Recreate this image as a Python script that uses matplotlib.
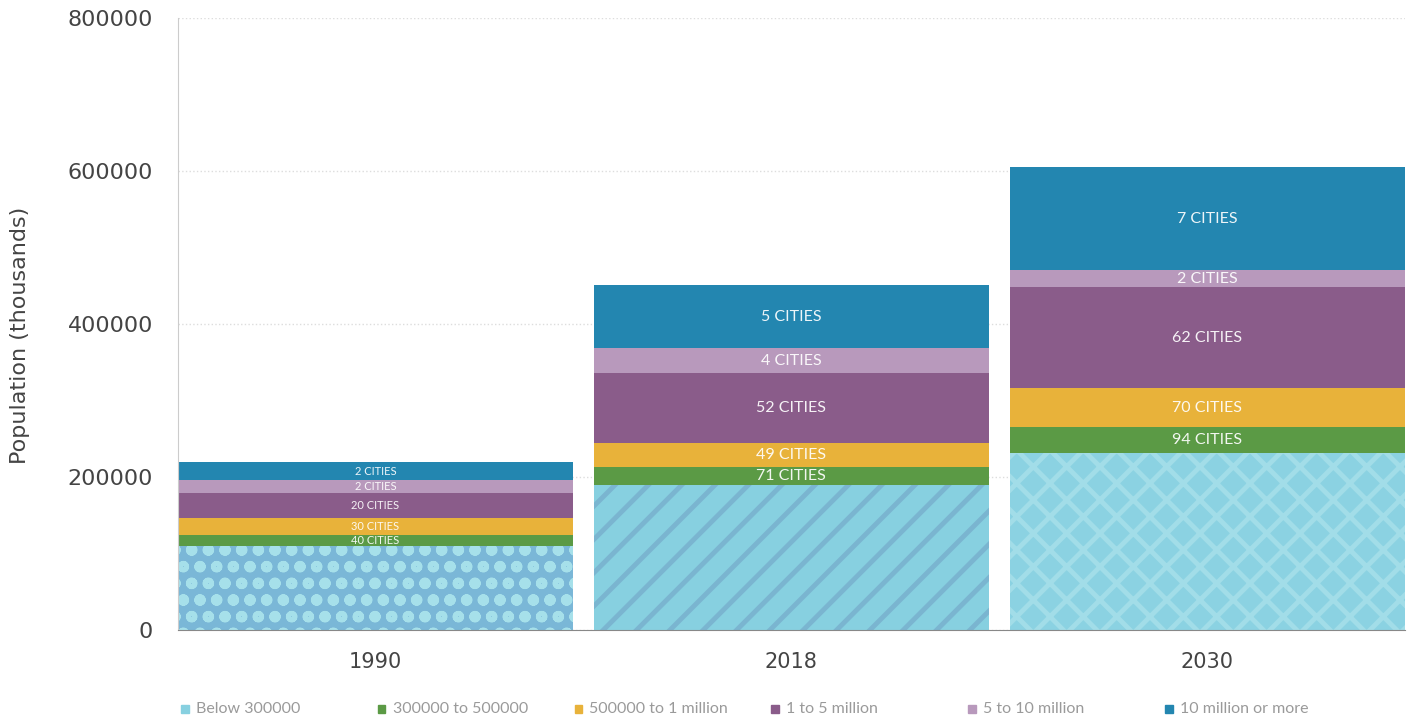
import matplotlib.pyplot as plt
from matplotlib.patches import Rectangle
import numpy as np

plt.rcParams['font.family'] = ['Lato', 'DejaVu Sans']
plt.rcParams['hatch.linewidth'] = 3.5

years = ['1990', '2018', '2030']
groups = ['Below 300000', '300000 to 500000', '500000 to 1 million',
          '1 to 5 million', '5 to 10 million', '10 million or more']
colors = ['#87d0e0', '#5b9a45', '#e8b23a', '#8a5c8a', '#b899bc', '#2386b0']

# population (thousands) per size class
below_300k = [110000, 189500, 231000]
k300_500k = [14500, 23500, 34000]
k500_1m = [22000, 31500, 51000]
m1_5 = [32500, 91500, 132000]
m5_10 = [17000, 32500, 22000]
m10_plus = [23500, 82500, 135000]

# city counts written on the segments
cities = [
    [None, None, None],
    [40, 71, 94],
    [30, 49, 70],
    [20, 52, 62],
    [2, 4, 2],
    [2, 5, 7],
]

series = [below_300k, k300_500k, k500_1m, m1_5, m5_10, m10_plus]
base_colors = ['#7ab7d7', '#87d0e0', '#8bd2e2']
hatch_colors = ['#a6e0ea', '#7ab5d0', '#a2dde8']
hatches = ['o', '/', 'x']

fig = plt.figure(figsize=(14.13, 7.24), dpi=100)
ax = fig.add_axes([0.126, 0.130, 0.868, 0.845])

x = np.arange(len(years))
width = 0.95
bottom = np.zeros(len(years))
for i, (vals, col) in enumerate(zip(series, colors)):
    vals = np.array(vals, dtype=float)
    if i == 0:
        bars = ax.bar(x, vals, width, bottom=bottom, color=base_colors,
                      linewidth=0, label=groups[i])
        for b, hc, h in zip(bars, hatch_colors, hatches):
            b.set_hatch(h)
            b.set_edgecolor(hc)
            b.set_linewidth(0)
    else:
        ax.bar(x, vals, width, bottom=bottom, color=col,
               linewidth=0, label=groups[i])
        for j, n in enumerate(cities[i]):
            if n is None:
                continue
            fs = 8 if j == 0 else 11.5
            ax.text(x[j], bottom[j] + vals[j] / 2, '{} CITIES'.format(n),
                    ha='center', va='center', fontsize=fs, color='white',
                    alpha=0.92)
    bottom += vals

ax.set_xlim(-0.475, 2.475)
ax.set_ylim(0, 800000)
ax.set_yticks([0, 200000, 400000, 600000, 800000])
ax.set_xticks(x)
ax.set_xticklabels(years)
ax.tick_params(axis='y', length=0, pad=18, labelcolor='#444444')
ax.tick_params(axis='x', length=0, pad=16, labelcolor='#444444')
for lab in ax.get_yticklabels():
    lab.set_family('DejaVu Sans')
    lab.set_fontsize(16)
for lab in ax.get_xticklabels():
    lab.set_family('DejaVu Sans')
    lab.set_fontsize(15)
ax.set_ylabel('Population (thousands)', fontsize=16, color='#444444',
              family='DejaVu Sans')
ax.yaxis.set_label_coords(-0.121, 0.482)

ax.grid(axis='y', linestyle=':', color='#dddddd', linewidth=1)
ax.set_axisbelow(True)
for s in ['top', 'right']:
    ax.spines[s].set_visible(False)
ax.spines['left'].set_color('#cccccc')
ax.spines['bottom'].set_color('#888888')

# legend row along the bottom, evenly spaced
for i, (g, col) in enumerate(zip(groups, colors)):
    lx = 0.128 + i * 0.1393
    fig.patches.append(Rectangle((lx, 0.015), 0.0055, 0.0107, color=col,
                                 transform=fig.transFigure, figure=fig))
    fig.text(lx + 0.0105, 0.0205, g, fontsize=11.5, color='#9a9a9a',
             va='center', ha='left')

fig.savefig('out.png', dpi=100)
